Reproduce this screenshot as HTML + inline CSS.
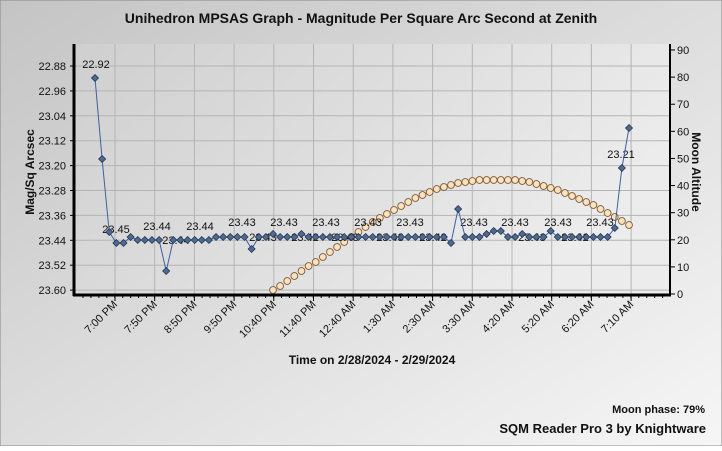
<!DOCTYPE html>
<html><head><meta charset="utf-8"><style>
html,body{margin:0;padding:0}
body{width:722px;height:446px;overflow:hidden;font-family:"Liberation Sans",sans-serif}
</style></head><body>
<svg id="s" width="722" height="446" xmlns="http://www.w3.org/2000/svg" font-family="Liberation Sans, sans-serif">
<defs>
<linearGradient id="bg" x1="0" y1="0" x2="1" y2="1">
<stop offset="0" stop-color="#c4c4c4"/><stop offset="1" stop-color="#f6f6f6"/></linearGradient>
<linearGradient id="pg" x1="0" y1="0" x2="1" y2="0.4">
<stop offset="0" stop-color="#cfcfcf"/><stop offset="1" stop-color="#ececec"/></linearGradient>
</defs>
<rect x="0" y="0" width="722" height="446" fill="url(#bg)" stroke="#888" stroke-width="1"/>
<rect x="75" y="44" width="595" height="251" fill="url(#pg)"/>
<text x="361" y="23" text-anchor="middle" font-size="14" font-weight="bold" fill="#111">Unihedron MPSAS Graph - Magnitude Per Square Arc Second at Zenith</text>
<g id="grid" stroke="#b4b4b4" stroke-width="1"></g>
<g id="axes"></g>
<g id="data"></g>
<text transform="translate(34,172) rotate(-90)" text-anchor="middle" font-size="12" font-weight="bold" fill="#111">Mag/Sq Arcsec</text>
<text transform="translate(692,172) rotate(90)" text-anchor="middle" font-size="12" font-weight="bold" fill="#111">Moon Altitude</text>
<text x="372" y="364" text-anchor="middle" font-size="12" font-weight="bold" fill="#111">Time on 2/28/2024 - 2/29/2024</text>
<text x="705" y="413" text-anchor="end" font-size="11" font-weight="bold" fill="#111">Moon phase: 79%</text>
<text x="706" y="433" text-anchor="end" font-size="13" font-weight="bold" fill="#111">SQM Reader Pro 3 by Knightware</text>
</svg>
<script>
var NS="http://www.w3.org/2000/svg";
function el(p,t,a,txt){var e=document.createElementNS(NS,t);for(var k in a)e.setAttribute(k,a[k]);if(txt!=null)e.textContent=txt;document.getElementById(p).appendChild(e);return e;}
var ml=["22.88","22.96","23.04","23.12","23.20","23.28","23.36","23.44","23.52","23.60"];
for(var i=0;i<10;i++){var y=66+i*24.9;el("grid","line",{x1:75,y1:y,x2:670,y2:y});
el("axes","text",{x:66,y:y+4,"text-anchor":"end","font-size":"11",fill:"#111"},ml[i]);
el("axes","line",{x1:70,y1:y,x2:75,y2:y,stroke:"#000"});}
for(var i=0;i<=90;i+=10){var y=294-i*2.711;
el("axes","line",{x1:670,y1:y,x2:675,y2:y,stroke:"#000"});
el("axes","text",{x:677,y:y+4,"font-size":"11",fill:"#111"},String(i));}
var xl=["7:00 PM","7:50 PM","8:50 PM","9:50 PM","10:40 PM","11:40 PM","12:40 AM","1:30 AM","2:30 AM","3:30 AM","4:20 AM","5:20 AM","6:20 AM","7:10 AM"];
for(var i=0;i<14;i++){var x=115+i*39.7;el("grid","line",{x1:x,y1:44,x2:x,y2:295});
el("axes","line",{x1:x,y1:295,x2:x,y2:301,stroke:"#000"});
el("axes","text",{transform:"translate("+(x+3)+",305) rotate(-45)","text-anchor":"end","font-size":"11",fill:"#111"},xl[i]);}
for(var x=83;x<670;x+=7.94){el("axes","line",{x1:x,y1:295,x2:x,y2:298,stroke:"#000"});}
el("axes","line",{x1:74,y1:44,x2:74,y2:296,stroke:"#000","stroke-width":3});
el("axes","line",{x1:73,y1:295,x2:671,y2:295,stroke:"#000","stroke-width":3});
el("axes","line",{x1:670,y1:44,x2:670,y2:296,stroke:"#000","stroke-width":2});
var my=[290,286,281,276,271,266,262,257,252,247,242,237,232,227,222,218,214,210,206,202,198,195,192,189,187,185,183,182,181,180,180,180,180,180,180,181,182,184,186,188,190,193,196,199,202,205,209,213,217,221,225];
for(var k=0;k<my.length;k++){el("data","circle",{cx:273+k*7.12,cy:my[k],r:3.4,fill:"#fde2bd",stroke:"#7a5a3a","stroke-width":0.9});}
var by=[];for(var i=0;i<76;i++)by.push(237);
var d={0:78,1:159,2:232,3:243,4:243,6:240,7:240,8:240,9:240,10:271,11:240,12:240,13:240,14:240,15:240,16:240,22:249,25:234,29:234,50:243,51:209,55:234,56:231,57:231,60:234,64:231,73:228,74:168,75:128};
for(var k in d)by[k]=d[k];
var pts=by.map(function(y,i){return (95+i*7.12).toFixed(1)+","+y;}).join(" ");
var lab=[[96,68,"22.92"],[116,233,"23.45"],[157,230,"23.44"],[200,230,"23.44"],[242,226,"23.43"],[284,226,"23.43"],[326,226,"23.43"],[368,226,"23.43"],[410,226,"23.43"],[474,226,"23.43"],[515,226,"23.43"],[558,226,"23.43"],[600,226,"23.43"],[621,158,"23.21"],
[176,244,"23.44"],[263,241,"23.43"],[305,241,"23.42"],[345,241,"23.43"],[390,241,"23.43"],[433,241,"23.42"],[532,241,"23.43"],[575,241,"23.42"]];
lab.forEach(function(l){el("data","text",{x:l[0],y:l[1],"text-anchor":"middle","font-size":"11",fill:"#111"},l[2]);});
el("data","polyline",{points:pts,fill:"none",stroke:"#3d5fa0","stroke-width":1});
by.forEach(function(y,i){var x=95+i*7.12;el("data","rect",{x:x-2.5,y:y-2.5,width:5,height:5,transform:"rotate(45 "+x+" "+y+")",fill:"#4e6a92",stroke:"#1d2e4a","stroke-width":0.7});});
</script>
</body></html>
